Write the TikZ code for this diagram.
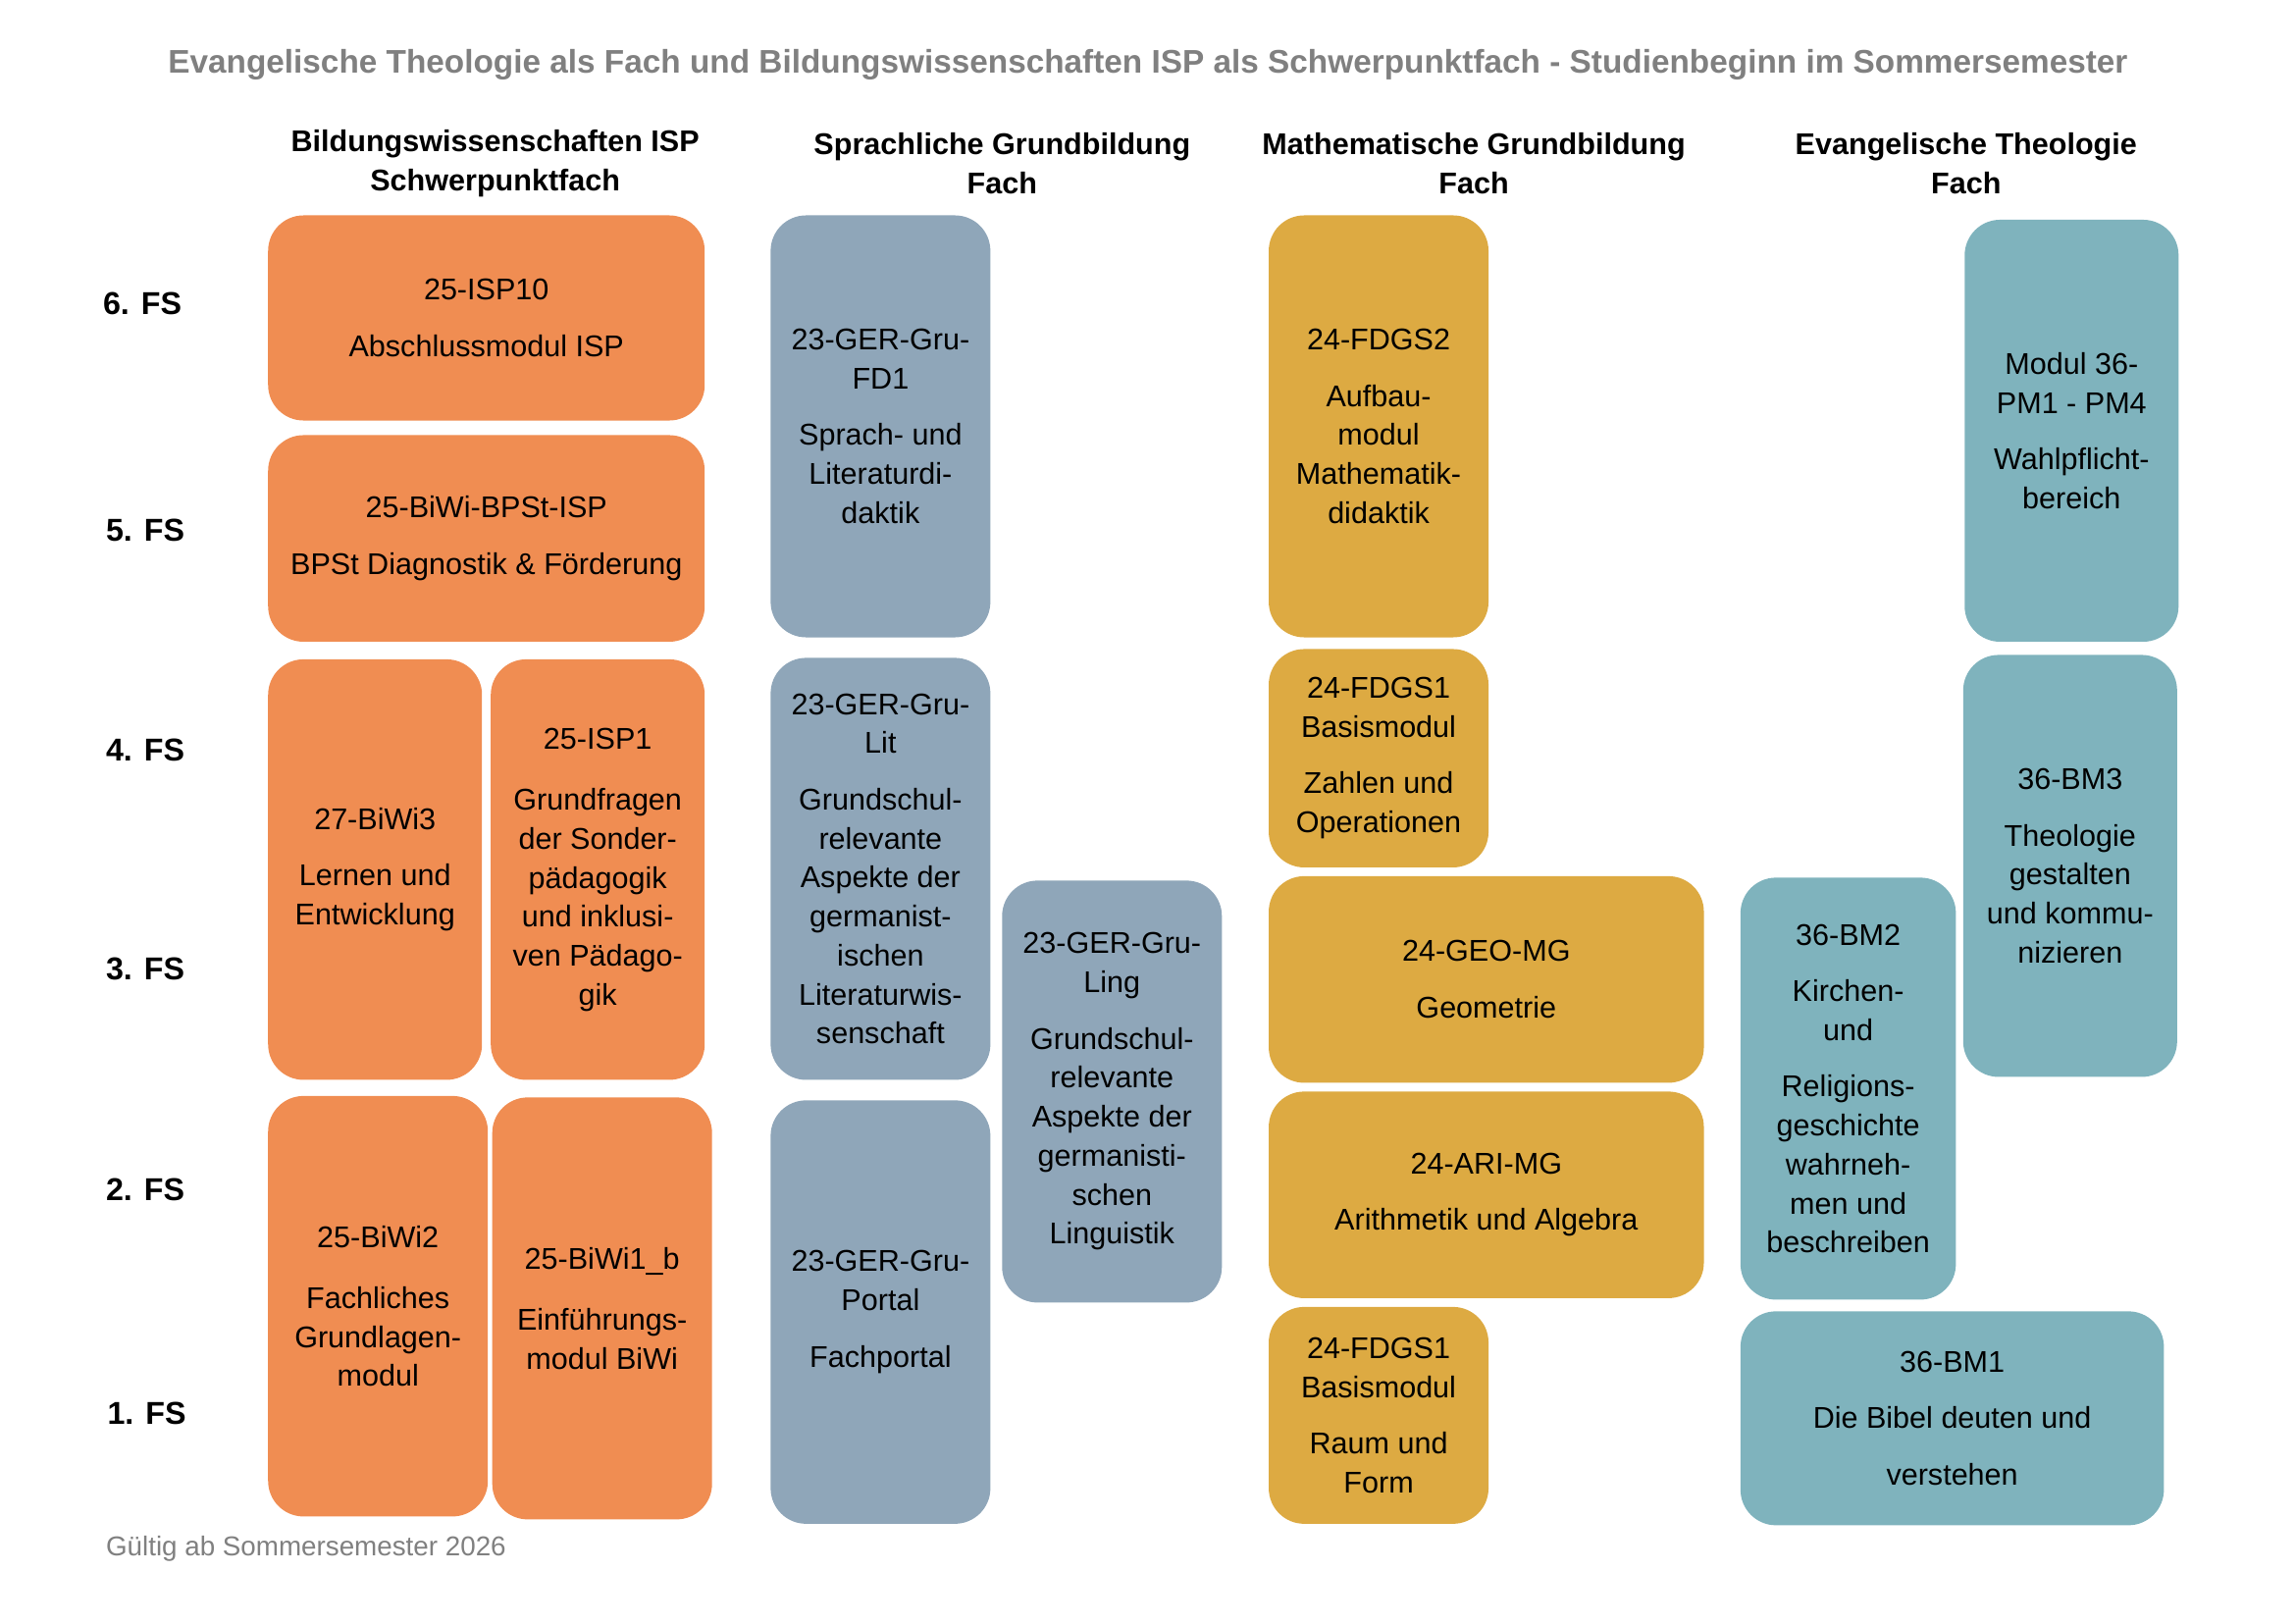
\documentclass[tikz,border=0pt]{standalone}
\usepackage{fontspec}
\setmainfont{Liberation Sans}
\definecolor{corange}{RGB}{240,141,82}
\definecolor{cblue}{RGB}{143,166,185}
\definecolor{cgold}{RGB}{221,170,66}
\definecolor{cteal}{RGB}{127,179,189}
\definecolor{cgray}{RGB}{128,128,128}
\def\un{0.53744pt}
\newcommand\pg{\\[6.4pt]}
\newcommand\modnode[7]{%
  \node[modbox, fill=#2, minimum width={(#5-#3)*\un}, minimum height={(#6-#4)*\un}] (#1) at ({(#3+#5)/2},{(#4+#6)/2}) {#7};}
\tikzset{
  modbox/.style={rounded corners=13pt, inner sep=0pt, draw=none, align=center, text=black, font=\fontsize{11}{14.3}\selectfont},
  hdr/.style={font=\bfseries\fontsize{11}{14.6}\selectfont, align=center},
  fslabel/.style={font=\bfseries\fontsize{11.6}{14}\selectfont, anchor=west, inner sep=0pt},
}
\begin{document}
\begin{tikzpicture}[x=0.53744pt,y=-0.53744pt]
\useasboundingbox (0,0) rectangle (1566.5,1108);
\node[font=\bfseries\fontsize{12}{14}\selectfont, text=cgray] (title) at (783.5,44) {Evangelische Theologie als Fach und Bildungswissenschaften ISP als Schwerpunktfach - Studienbeginn im Sommersemester};
\node[hdr] (h1) at (338,111.5) {Bildungswissenschaften ISP\\Schwerpunktfach};
\node[hdr] (h2) at (684,111.5) {Sprachliche Grundbildung\\Fach};
\node[hdr] (h3) at (1006,111.5) {Mathematische Grundbildung\\Fach};
\node[hdr] (h4) at (1342,111.5) {Evangelische Theologie\\Fach};
\node[fslabel] (fs6) at (70,207) {6. FS};
\node[fslabel] (fs5) at (72,362) {5. FS};
\node[fslabel] (fs4) at (72,512) {4. FS};
\node[fslabel] (fs3) at (72,661) {3. FS};
\node[fslabel] (fs2) at (72,812) {2. FS};
\node[fslabel] (fs1) at (73,965) {1. FS};
% Bildungswissenschaften
\modnode{isp10}{corange}{183}{147}{481}{287}{25-ISP10\pg Abschlussmodul ISP}
\modnode{bpst}{corange}{183}{297}{481}{438}{25-BiWi-BPSt-ISP\pg BPSt Diagnostik \& Förderung}
\modnode{biwi3}{corange}{183}{450}{329}{737}{27-BiWi3\pg Lernen und\\Entwicklung}
\modnode{isp1}{corange}{335}{450}{481}{737}{25-ISP1\\[8.2pt]Grundfragen\\der Sonder-\\pädagogik\\und inklusi-\\ven Pädago-\\gik}
\modnode{biwi2}{corange}{183}{748}{333}{1035}{25-BiWi2\\[8pt]Fachliches\\Grundlagen-\\modul}
\modnode{biwi1b}{corange}{336}{749}{486}{1037}{25-BiWi1\_b\\[8pt]Einführungs-\\modul BiWi}
% Sprachliche Grundbildung
\modnode{fd1}{cblue}{526}{147}{676}{435}{23-GER-Gru-\\FD1\pg Sprach- und\\Literaturdi-\\daktik}
\modnode{lit}{cblue}{526}{449}{676}{737}{23-GER-Gru-\\Lit\pg Grundschul-\\relevante\\Aspekte der\\germanist-\\ischen\\Literaturwis-\\senschaft}
\modnode{ling}{cblue}{684}{601}{834}{889}{23-GER-Gru-\\Ling\pg Grundschul-\\relevante\\Aspekte der\\germanisti-\\schen\\Linguistik}
\modnode{portal}{cblue}{526}{751}{676}{1040}{23-GER-Gru-\\Portal\pg Fachportal}
% Mathematische Grundbildung
\modnode{fdgs2}{cgold}{866}{147}{1016}{435}{24-FDGS2\pg Aufbau-\\modul\\Mathematik-\\didaktik}
\modnode{fdgs1a}{cgold}{866}{443}{1016}{592}{24-FDGS1\\Basismodul\pg Zahlen und\\Operationen}
\modnode{geo}{cgold}{866}{598}{1163}{739}{24-GEO-MG\pg Geometrie}
\modnode{ari}{cgold}{866}{745}{1163}{886}{24-ARI-MG\pg Arithmetik und Algebra}
\modnode{fdgs1b}{cgold}{866}{892}{1016}{1040}{24-FDGS1\\Basismodul\pg Raum und\\Form}
% Evangelische Theologie
\modnode{pm}{cteal}{1341}{150}{1487}{438}{Modul 36-\\PM1 - PM4\pg Wahlpflicht-\\bereich}
\modnode{bm3}{cteal}{1340}{447}{1486}{735}{36-BM3\pg Theologie\\gestalten\\und kommu-\\nizieren}
\modnode{bm2}{cteal}{1188}{599}{1335}{887}{36-BM2\pg Kirchen-\\und\pg Religions-\\geschichte\\wahrneh-\\men und\\beschreiben}
\modnode{bm1}{cteal}{1188}{895}{1477}{1041}{36-BM1\pg Die Bibel deuten und\pg verstehen}
\node[font=\fontsize{10}{12}\selectfont, text=cgray, anchor=west, inner sep=0pt] (footer) at (72,1057) {Gültig ab Sommersemester 2026};
\end{tikzpicture}
\end{document}
